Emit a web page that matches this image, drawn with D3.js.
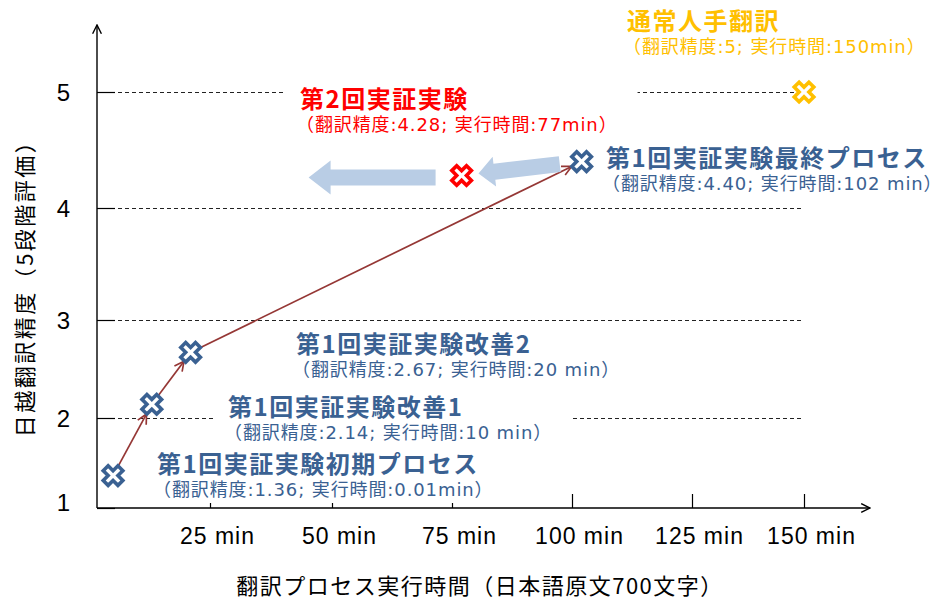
<!DOCTYPE html>
<html>
<head>
<meta charset="utf-8">
<script src="https://cdn.jsdelivr.net/npm/d3@7"></script>
<style>
  body { margin: 0; background: #fff; }
</style>
</head>
<body>
<script>
var width = 949;
var height = 602;

// values
var names = ["第1回実証実験初期プロセス", "第1回実証実験改善1", "第1回実証実験改善2",
  "第1回実証実験最終プロセス", "第2回実証実験", "通常人手翻訳"];
var series = ["exp1", "exp1", "exp1", "exp1", "exp2", "manual"];
var times = [0.01, 10, 20, 102, 77, 150];
var accuracy = [1.36, 2.14, 2.67, 4.40, 4.28, 5];
var accuracyText = ["1.36", "2.14", "2.67", "4.40", "4.28", "5"];
var timeText = ["0.01min", "10 min", "20 min", "102 min", "77min", "150min"];
var xTickValues = [25, 50, 75, 100, 125, 150];
var xTickLabels = ["25 min", "50 min", "75 min", "100 min", "125 min", "150 min"];
var yTickValues = [1, 2, 3, 4, 5];

// layout for the annotation text blocks (title start x, title centre y)
var labelAnchors = [[157, 462], [228, 405], [296, 342], [606, 156], [300, 97], [627, 19]];
var labelBoxed = [true, true, true, false, true, false];

var colors = { exp1: "#3a6192", exp2: "#ff0000", manual: "#ffc000" };
var cjk = "'Noto Sans CJK JP', sans-serif";

var svg = d3.select('body')
  .append('svg')
  .attr('width', width)
  .attr('height', height);

// hand-drawn axis in the original, so the scales are piecewise
var x = d3.scaleLinear()
  .domain([0, 25, 50, 75, 100, 125, 150])
  .range([113, 210, 332, 452, 572, 692, 804]);
var y = d3.scaleLinear()
  .domain([1, 2, 3, 4, 5])
  .range([508, 418, 320, 208, 92]);

var originX = 97;
var topY = 25;
var rightX = 870;

var defs = svg.append('defs');
function addArrowMarker(id, color, w, size) {
  defs.append('marker')
    .attr('id', id)
    .attr('viewBox', '0 0 10 10')
    .attr('refX', 9)
    .attr('refY', 5)
    .attr('markerWidth', size)
    .attr('markerHeight', size)
    .attr('markerUnits', 'userSpaceOnUse')
    .attr('orient', 'auto')
    .append('path')
    .attr('d', 'M1,1 L9,5 L1,9')
    .attr('fill', 'none')
    .attr('stroke', color)
    .attr('stroke-width', w);
}
addArrowMarker('axis-head', '#000', 1.3, 11);
addArrowMarker('link-head', '#953735', 1.4, 12);

// dashed gridlines
svg.append('g')
  .selectAll('line')
  .data(yTickValues.filter(function(v) { return v > 1; }))
  .enter()
  .append('line')
  .attr('x1', originX)
  .attr('x2', x(150))
  .attr('y1', function(d) { return y(d) + 0.5; })
  .attr('y2', function(d) { return y(d) + 0.5; })
  .attr('stroke', '#222')
  .attr('stroke-width', 1)
  .attr('shape-rendering', 'crispEdges')
  .attr('stroke-dasharray', '4,3');

// x axis ticks + labels
var xAxis = d3.axisBottom(x)
  .tickValues(xTickValues)
  .tickSize(-14)
  .tickPadding(20)
  .tickFormat(function(d, i) { return xTickLabels[i]; });

var gx = svg.append('g')
  .attr('transform', 'translate(0,' + y(1) + ')')
  .call(xAxis);
gx.select('.domain').remove();
gx.selectAll('.tick line').attr('stroke', '#000').attr('stroke-width', 1.2);
gx.selectAll('.tick text')
  .attr('x', 7)
  .attr('fill', '#000')
  .style('font-family', "'Liberation Sans', Arial, sans-serif")
  .style('font-size', '23px')
  .style('letter-spacing', '1px');

// white boxes behind the annotations hide gridlines / ticks
var boxLayer = svg.append('g');

// y axis ticks + labels
var yAxis = d3.axisLeft(y)
  .tickValues(yTickValues)
  .tickSize(-18)
  .tickPadding(27)
  .tickFormat(d3.format('d'));

var gy = svg.append('g')
  .attr('transform', 'translate(' + originX + ',0)')
  .call(yAxis);
gy.select('.domain').remove();
gy.selectAll('.tick line').attr('stroke', '#000').attr('stroke-width', 1.2);
gy.selectAll('.tick text')
  .attr('fill', '#000')
  .attr('dy', function(d) { return d === 1 ? '0.1em' : '0.35em'; })
  .style('font-family', "'Liberation Sans', Arial, sans-serif")
  .style('font-weight', 'normal')
  .style('font-size', '24px');

// axis lines with open arrow heads
svg.append('line')
  .attr('x1', originX).attr('y1', y(1))
  .attr('x2', originX).attr('y2', topY)
  .attr('stroke', '#000').attr('stroke-width', 1.4)
  .attr('marker-end', 'url(#axis-head)');
svg.append('line')
  .attr('x1', originX).attr('y1', y(1))
  .attr('x2', rightX).attr('y2', y(1))
  .attr('stroke', '#000').attr('stroke-width', 1.4)
  .attr('marker-end', 'url(#axis-head)');

// axis titles
svg.append('text')
  .attr('x', 480)
  .attr('y', 584)
  .attr('text-anchor', 'middle')
  .attr('dominant-baseline', 'central')
  .style('font-family', cjk)
  .style('font-size', '22px')
  .style('letter-spacing', '1.5px')
  .text('翻訳プロセス実行時間（日本語原文700文字）');

svg.append('text')
  .attr('transform', 'translate(23,283) rotate(-90)')
  .attr('text-anchor', 'middle')
  .attr('dominant-baseline', 'central')
  .style('font-family', cjk)
  .style('font-size', '22px')
  .style('letter-spacing', '2.5px')
  .text('日越翻訳精度（5段階評価）');

function pt(i) {
  return [x(times[i]), y(accuracy[i])];
}

// red connectors of the first experiment
var exp1 = d3.range(names.length).filter(function(i) { return series[i] === 'exp1'; });
svg.append('g')
  .selectAll('line')
  .data(d3.pairs(exp1))
  .enter()
  .append('line')
  .each(function(d) {
    var a = pt(d[0]), b = pt(d[1]);
    var dx = b[0] - a[0], dy = b[1] - a[1], len = Math.hypot(dx, dy);
    var ux = dx / len, uy = dy / len;
    d3.select(this)
      .attr('x1', a[0] + ux * 10).attr('y1', a[1] + uy * 10)
      .attr('x2', b[0] - ux * 11).attr('y2', b[1] - uy * 11);
  })
  .attr('stroke', '#953735')
  .attr('stroke-width', 1.7)
  .attr('marker-end', 'url(#link-head)');

// light blue block arrows
function blockArrow(tail, tip, shaftHalf, headHalf, headLen) {
  var dx = tip[0] - tail[0], dy = tip[1] - tail[1], len = Math.hypot(dx, dy);
  var ux = dx / len, uy = dy / len, nx = -uy, ny = ux;
  var bx = tip[0] - ux * headLen, by = tip[1] - uy * headLen;
  return d3.line()([
    [tail[0] + nx * shaftHalf, tail[1] + ny * shaftHalf],
    [bx + nx * shaftHalf, by + ny * shaftHalf],
    [bx + nx * headHalf, by + ny * headHalf],
    tip,
    [bx - nx * headHalf, by - ny * headHalf],
    [bx - nx * shaftHalf, by - ny * shaftHalf],
    [tail[0] - nx * shaftHalf, tail[1] - ny * shaftHalf]
  ]) + 'Z';
}
var pFinal = pt(3), pSecond = pt(4);
var ddx = pSecond[0] - pFinal[0], ddy = pSecond[1] - pFinal[1], dlen = Math.hypot(ddx, ddy);
var dux = ddx / dlen, duy = ddy / dlen;
svg.append('path')
  .attr('d', blockArrow([pFinal[0] + dux * 22, pFinal[1] + duy * 22],
                        [pSecond[0] - dux * 17, pSecond[1] - duy * 17], 8, 15, 16))
  .attr('fill', '#b9cde5');
svg.append('path')
  .attr('d', blockArrow([pSecond[0] - 26, pSecond[1] + 2], [pSecond[0] - 153, pSecond[1] + 2], 8, 17, 22))
  .attr('fill', '#b9cde5');

// markers
var cross = d3.symbol().type(d3.symbolCross).size(240);
svg.append('g')
  .selectAll('path')
  .data(d3.range(names.length))
  .enter()
  .append('path')
  .attr('d', cross)
  .attr('transform', function(i) {
    var p = pt(i);
    return 'translate(' + p[0] + ',' + p[1] + ') rotate(45)';
  })
  .attr('fill', '#fff')
  .attr('stroke', function(i) { return colors[series[i]]; })
  .attr('stroke-width', 3.6)
  .attr('stroke-linejoin', 'miter');

// annotation text blocks
var labels = svg.append('g')
  .selectAll('g')
  .data(d3.range(names.length))
  .enter()
  .append('g')
  .attr('transform', function(i) {
    return 'translate(' + labelAnchors[i][0] + ',' + labelAnchors[i][1] + ')';
  });

labels.append('text')
  .attr('class', 'title')
  .attr('dominant-baseline', 'central')
  .attr('fill', function(i) { return colors[series[i]]; })
  .style('font-family', cjk)
  .style('font-weight', 700)
  .style('font-size', '24px')
  .style('letter-spacing', '1.5px')
  .text(function(i) { return names[i]; });

labels.append('text')
  .attr('class', 'sub')
  .attr('x', -4)
  .attr('y', 27)
  .attr('dominant-baseline', 'central')
  .attr('fill', function(i) { return colors[series[i]]; })
  .style('font-family', "'DejaVu Sans', " + cjk)
  .style('font-size', '18px')
  .style('letter-spacing', '0.9px')
  .text(function(i) {
    return '（翻訳精度:' + accuracyText[i] + '; 実行時間:' + timeText[i] + '）';
  });

labels.each(function(i) {
  if (!labelBoxed[i]) return;
  var g = d3.select(this);
  var w = Math.max(g.select('.title').node().getComputedTextLength(),
                   g.select('.sub').node().getComputedTextLength());
  boxLayer.append('rect')
    .attr('x', labelAnchors[i][0] - 14)
    .attr('y', labelAnchors[i][1] - 17)
    .attr('width', w + 30)
    .attr('height', 58)
    .attr('fill', '#fff');
});
</script>
</body>
</html>
